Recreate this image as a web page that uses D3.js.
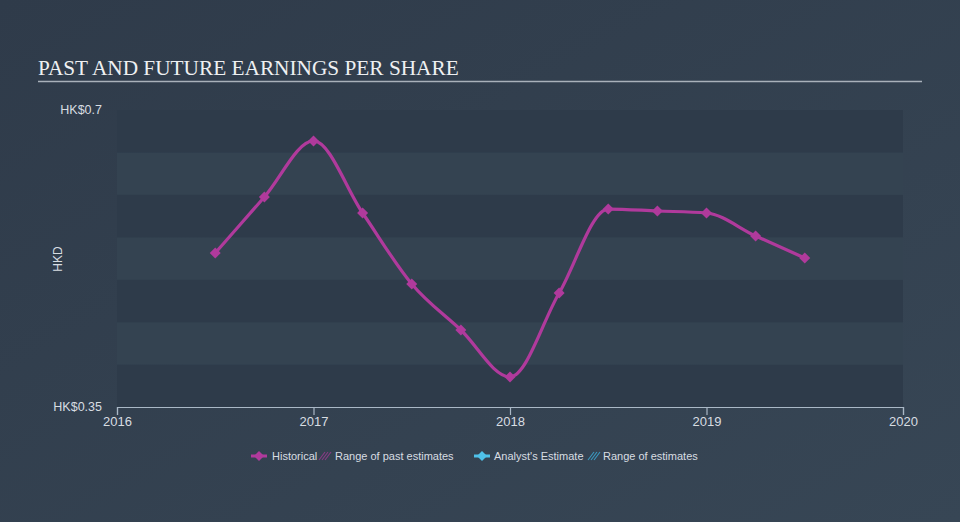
<!DOCTYPE html>
<html><head><meta charset="utf-8">
<script src="https://cdn.jsdelivr.net/npm/d3@7"></script>
<style>
html,body{margin:0;padding:0;background:#333f4d;}
svg{display:block;}
</style></head>
<body>
<svg id="chart" width="960" height="522"></svg>
<script>
const titleText = "PAST AND FUTURE EARNINGS PER SHARE";
const dates = [2016.5, 2016.75, 2017.0, 2017.25, 2017.5, 2017.75, 2018.0, 2018.25, 2018.5, 2018.75, 2019.0, 2019.25, 2019.5];
const eps = [0.5315, 0.5975, 0.6635, 0.5786, 0.495, 0.4407, 0.3854, 0.4843, 0.5833, 0.581, 0.5786, 0.5515, 0.5256];
const xTicks = [2016, 2017, 2018, 2019, 2020];
const yTicks = [0.35, 0.7];
const yTickLabels = ["HK$0.35", "HK$0.7"];
const bandEdges = [0.35, 0.40, 0.45, 0.50, 0.55, 0.60, 0.65, 0.70];

const svg = d3.select("#chart");
const W = 960, H = 522;
const defs = svg.append("defs");
const bg = defs.append("linearGradient").attr("id","bg").attr("x1","0").attr("y1","0").attr("x2","1").attr("y2","1");
bg.append("stop").attr("offset","0").attr("stop-color","#2f3b4a");
bg.append("stop").attr("offset","1").attr("stop-color","#374655");
svg.append("rect").attr("width",W).attr("height",H).attr("fill","url(#bg)");

const x = d3.scaleLinear().domain([2016, 2020]).range([117, 903]);
const y = d3.scaleLinear().domain([0.35, 0.7]).range([407, 110]);

// bands
for (let i = 0; i < bandEdges.length - 1; i++) {
  const lo = bandEdges[i], hi = bandEdges[i+1];
  const fromTop = bandEdges.length - 2 - i;
  svg.append("rect")
    .attr("x", x(2016)).attr("width", x(2020) - x(2016))
    .attr("y", y(hi)).attr("height", y(lo) - y(hi))
    .attr("fill", fromTop % 2 === 0 ? "#2e3b4a" : "#344351");
}

// title
svg.append("text").attr("x", 38).attr("y", 75)
  .attr("font-family", "'Liberation Serif', 'DejaVu Serif', serif")
  .attr("font-size", 21.3).attr("fill", "#eef0f2").text(titleText);
svg.append("line").attr("x1", 38).attr("x2", 922).attr("y1", 81.5).attr("y2", 81.5)
  .attr("stroke", "#a9b1ba").attr("stroke-width", 1.5);

// y tick labels
svg.selectAll(".ylab").data(yTicks).enter().append("text")
  .attr("x", 102).attr("y", d => y(d) + 4)
  .attr("text-anchor", "end")
  .attr("font-family", "'Liberation Sans', Arial, sans-serif")
  .attr("font-size", 12.5).attr("fill", "#d8dde2")
  .text((d, i) => yTickLabels[i]);
svg.append("text").attr("transform", "translate(62,259) rotate(-90)")
  .attr("text-anchor", "middle")
  .attr("font-family", "'Liberation Sans', Arial, sans-serif")
  .attr("font-size", 12).attr("fill", "#d8dde2").text("HKD");

// x axis
const xAxis = d3.axisBottom(x).tickValues(xTicks).tickFormat(d3.format("d")).tickSize(8).tickPadding(2);
const gx = svg.append("g").attr("transform", `translate(0,${y(0.35)})`).call(xAxis);
gx.select(".domain").attr("stroke", "#aab8c6").attr("stroke-width", 1.2);
gx.selectAll(".tick line").attr("stroke", "#aab8c6").attr("stroke-width", 1.2);
gx.selectAll(".tick text").attr("fill", "#d8dde2").attr("font-size", 13)
  .attr("font-family", "'Liberation Sans', Arial, sans-serif");

// line
const data = dates.map((d, i) => ({d, v: eps[i]}));
const line = d3.line().x(p => x(p.d)).y(p => y(p.v)).curve(d3.curveMonotoneX);
const col = "#b03a9c";
svg.append("path").datum(data).attr("d", line)
  .attr("fill", "none").attr("stroke", col).attr("stroke-width", 3.2);
svg.selectAll(".pt").data(data).enter().append("path")
  .attr("d", d3.symbol().type(d3.symbolSquare).size(60))
  .attr("transform", p => `translate(${x(p.d)},${y(p.v)}) rotate(45)`)
  .attr("fill", col);

// legend
const lg = svg.append("g").attr("font-family", "'Liberation Sans', Arial, sans-serif")
  .attr("font-size", 11).attr("fill", "#d8dde2");
function legendMarker(cx, cy, c) {
  lg.append("line").attr("x1", cx - 8).attr("x2", cx + 8).attr("y1", cy).attr("y2", cy)
    .attr("stroke", c).attr("stroke-width", 3);
  lg.append("path").attr("d", d3.symbol().type(d3.symbolSquare).size(50))
    .attr("transform", `translate(${cx},${cy}) rotate(45)`).attr("fill", c);
}
function hatch(cx, cy, c) {
  for (let k = -1; k <= 1; k++) {
    lg.append("line").attr("x1", cx - 4 + k * 3).attr("y1", cy + 4).attr("x2", cx + 2 + k * 3).attr("y2", cy - 4)
      .attr("stroke", c).attr("stroke-width", 1.1);
  }
}
const ly = 456;
legendMarker(259, ly, col);
lg.append("text").attr("x", 272).attr("y", ly + 4).text("Historical");
hatch(326, ly, "#8a3a86");
lg.append("text").attr("x", 335).attr("y", ly + 4).text("Range of past estimates");
legendMarker(482, ly, "#4fc1e9");
lg.append("text").attr("x", 494).attr("y", ly + 4).text("Analyst's Estimate");
hatch(595, ly, "#3a9ac0");
lg.append("text").attr("x", 603).attr("y", ly + 4).text("Range of estimates");
</script>
</body></html>
